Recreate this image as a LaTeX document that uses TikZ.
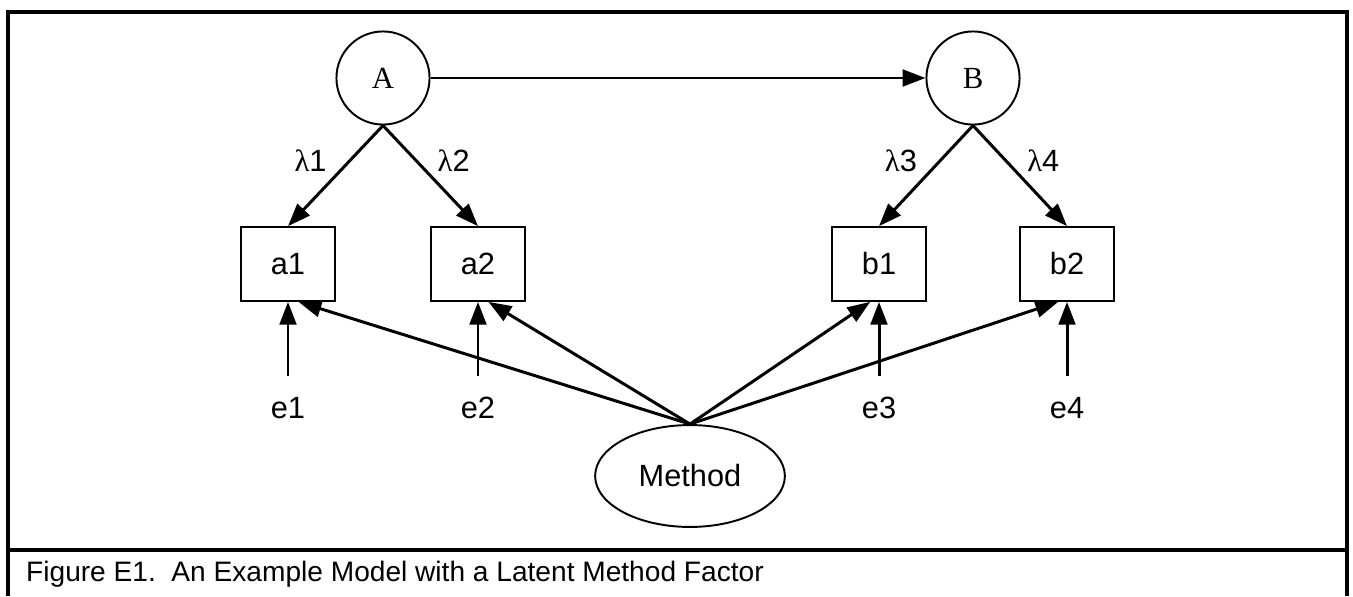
\documentclass[tikz,border=0pt]{standalone}
\usepackage{fontspec}
\setmainfont{Liberation Sans}
\newfontfamily\timesf{Liberation Serif}
\usetikzlibrary{arrows.meta,shapes.geometric}
\tikzstyle{latent}=[circle, draw, line width=1.1pt, minimum size=53pt, inner sep=0pt, font=\timesf\fontsize{17.5}{20}\selectfont]
\tikzstyle{observed}=[rectangle, draw, line width=1.1pt, minimum width=54pt, minimum height=42pt, inner sep=0pt]
\tikzstyle{meth}=[ellipse, draw, line width=1.1pt, minimum width=108pt, minimum height=58pt, inner sep=0pt]
\tikzstyle{errlab}=[inner xsep=0pt, inner ysep=12pt]
\tikzstyle{arr}=[-{Triangle[length=13pt,width=9.5pt]}, line width=1.7pt]

\begin{document}
\begin{tikzpicture}[x=0.02cm, y=-0.02cm, font=\fontsize{17.5}{20}\selectfont]
\useasboundingbox (0,0) rectangle (1353,596);

% frame and caption
\draw[line width=2.3pt] (8,596) -- (8,12) -- (1347,12) -- (1347,596);
\draw[line width=2pt] (8,550) -- (1347,550);
\node[anchor=base west, font=\fontsize{16}{18}\selectfont] (cap) at (20,581) {Figure E1.\ \ An Example Model with a Latent Method Factor};

\node[latent] (A) at (383,78) {A};
\node[latent] (B) at (973,78) {B};

\node[observed] (a1) at (288,264) {a1};
\node[observed] (a2) at (478,264) {a2};
\node[observed] (b1) at (879,264) {b1};
\node[observed] (b2) at (1067,264) {b2};

\node[errlab] (e1) at (288,408) {e1};
\node[errlab] (e2) at (478,408) {e2};
\node[errlab] (e3) at (879,408) {e3};
\node[errlab] (e4) at (1067,408) {e4};

\node[meth] (M) at (690,476) {Method};

\draw[arr] (A) -- (B);
\draw[arr] (A.south) -- (a1.north) node[pos=.35, left=9pt] {{\timesf λ}1};
\draw[arr] (A.south) -- (a2.north) node[pos=.35, right=8pt] {{\timesf λ}2};
\draw[arr] (B.south) -- (b1.north) node[pos=.35, left=9pt] {{\timesf λ}3};
\draw[arr] (B.south) -- (b2.north) node[pos=.35, right=8pt] {{\timesf λ}4};

\draw[arr] (e1) -- (a1);
\draw[arr] (e2) -- (a2);
\draw[arr] (e3) -- (b1);
\draw[arr] (e4) -- (b2);

\draw[arr] (M.north) -- ([xshift=6pt]a1.south);
\draw[arr] (M.north) -- ([xshift=6pt]a2.south);
\draw[arr] (M.north) -- ([xshift=-5pt]b1.south);
\draw[arr] (M.north) -- ([xshift=-5pt]b2.south);

\end{tikzpicture}
\end{document}
